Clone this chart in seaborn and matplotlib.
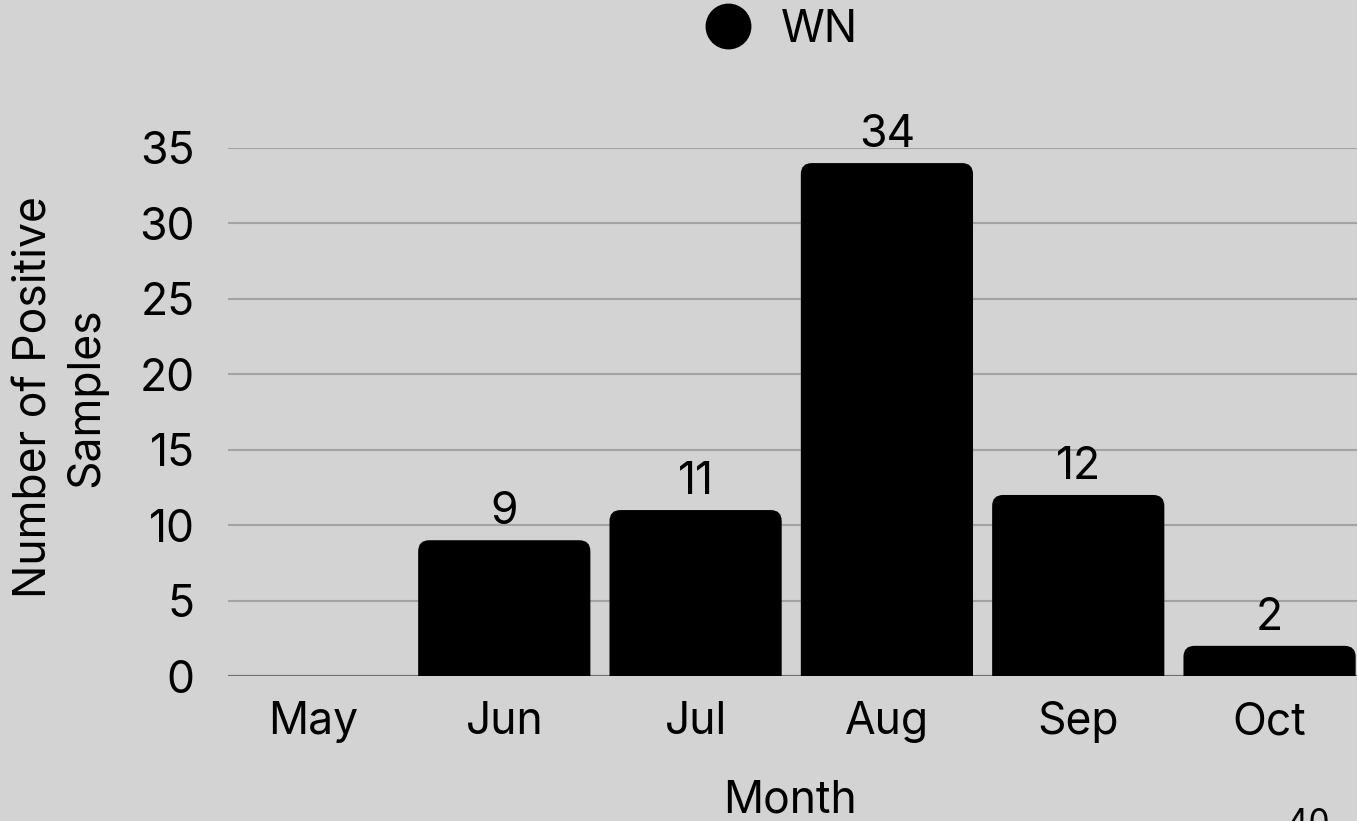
import matplotlib
matplotlib.use("Agg")
import matplotlib.pyplot as plt
from matplotlib.patches import FancyBboxPatch
from matplotlib.lines import Line2D
import seaborn as sns

months = ["May", "Jun", "Jul", "Aug", "Sep", "Oct"]
positives = [0, 9, 11, 34, 12, 2]
yticks = [0, 5, 10, 15, 20, 25, 30, 35]
series_name = "WN"
page_number = "40"

BG = "#d3d3d3"
FONT = ["Inter", "DejaVu Sans"]
FS = 32

sns.set_style("white")
plt.rcParams["font.family"] = FONT
plt.rcParams["figure.facecolor"] = BG
plt.rcParams["axes.facecolor"] = BG
plt.rcParams["text.color"] = "black"

W, H = 1357, 821
fig = plt.figure(figsize=(W / 100, H / 100), dpi=100)
ax = fig.add_axes([228 / W, (H - 676) / H, (W - 228) / W, (676 - 148) / H])

sns.barplot(x=months, y=positives, color="black", width=0.9, saturation=1,
            ax=ax, zorder=3)

ax.set_xlim(-0.444, 5.457)
ax.set_ylim(0, 35)

# swap plain rectangles for bars with rounded top corners
fig.canvas.draw()
px_x = (ax.transData.transform((1, 0))[0] - ax.transData.transform((0, 0))[0])
px_y = (ax.transData.transform((0, 1))[1] - ax.transData.transform((0, 0))[1])
aspect = px_x / px_y
radius_px = 11
for bar in list(ax.patches):
    x0, w, h = bar.get_x(), bar.get_width(), bar.get_height()
    bar.remove()
    if h <= 0:
        continue
    r = radius_px / px_x
    ax.add_patch(FancyBboxPatch((x0, -2), w, h + 2,
                                boxstyle=f"round,pad=0,rounding_size={r}",
                                mutation_aspect=aspect,
                                facecolor="black", edgecolor="none",
                                zorder=3, clip_on=True))

for i, v in enumerate(positives):
    if v > 0:
        ax.annotate(str(v), (i, v), xytext=(0, 5), textcoords="offset points",
                    ha="center", va="bottom", fontsize=FS, color="black",
                    zorder=4)

ax.set_yticks(yticks)
ax.set_yticklabels([str(t) for t in yticks])
ax.yaxis.grid(True, color="#a3a3a3", linewidth=1.5, zorder=0)
ax.xaxis.grid(False)
ax.axhline(0, color="#6e6e6e", linewidth=1.5, zorder=2)
for s in ax.spines.values():
    s.set_visible(False)
ax.tick_params(axis="y", length=0, pad=24, labelsize=FS, colors="black")
ax.tick_params(axis="x", length=0, pad=18, labelsize=FS, colors="black")
ax.set_xlabel("")
ax.set_ylabel("")

fig.text(790 / W, (H - 800) / H, "Month", ha="center", va="center",
         fontsize=FS, color="black")
fig.text(60 / W, (H - 397) / H, "Number of Positive\nSamples", ha="center",
         va="center", rotation=90, fontsize=FS, linespacing=1.3, color="black")

handle = Line2D([], [], marker="o", linestyle="none", color="black",
                markersize=32)
fig.legend([handle], [series_name], loc="center", bbox_to_anchor=(782 / W, (H - 30) / H),
           frameon=False, fontsize=FS, handletextpad=0.7, handlelength=1.0,
           labelcolor="black")

fig.text(1308 / W, (H - 808) / H, page_number, ha="center", va="top",
         fontsize=24, color="black")

fig.savefig("out.png", dpi=100, facecolor=BG)
